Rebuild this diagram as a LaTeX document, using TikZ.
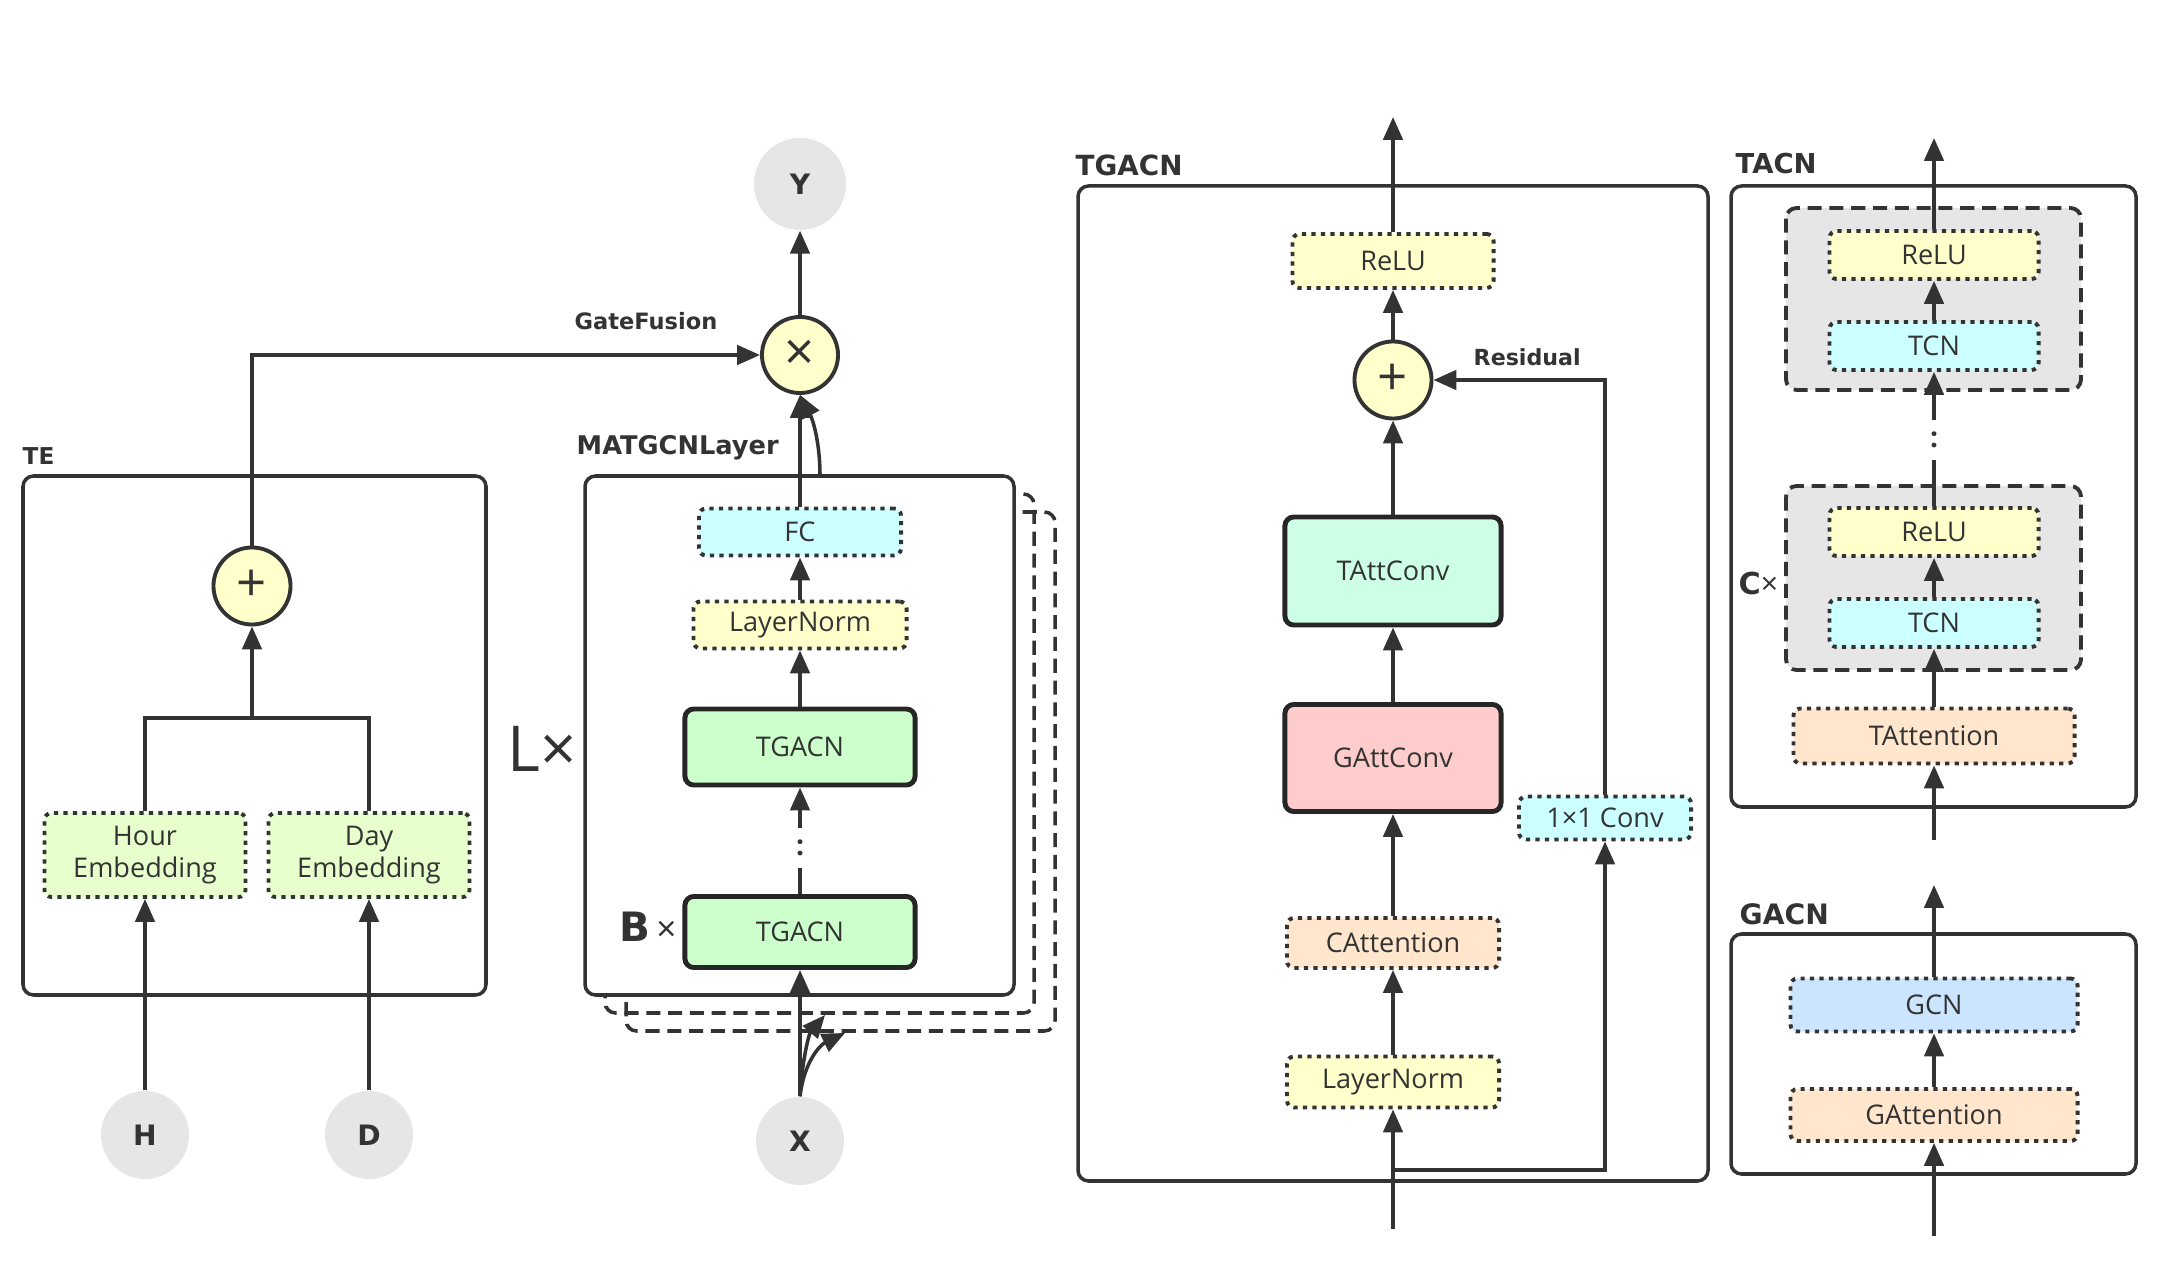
\documentclass[tikz,border=0pt]{standalone}
\usepackage{fontspec}
\setmainfont{Open Sans}
\setsansfont{Open Sans}
\newfontfamily\lblfont{DejaVu Sans}
\usetikzlibrary{arrows.meta,shapes.geometric}
\definecolor{dk}{HTML}{333333}
\definecolor{embf}{HTML}{E6FFCC}
\definecolor{cyanf}{HTML}{CCFFFF}
\definecolor{yelf}{HTML}{FFFFCC}
\definecolor{grnf}{HTML}{CCFFCC}
\definecolor{mintf}{HTML}{CCFFE6}
\definecolor{pinkf}{HTML}{FFCCCC}
\definecolor{orgf}{HTML}{FFE6CC}
\definecolor{bluf}{HTML}{CCE5FF}
\definecolor{grayf}{HTML}{E6E6E6}
\begin{document}
\begin{tikzpicture}[x=0.01cm,y=-0.01cm,
  ln/.style={draw=dk, line width=1pt},
  arr/.style={ln, -{Triangle[length=6.5pt,width=5.5pt]}},
  txt/.style={text=dk, font=\fontsize{7.7}{9.5}\selectfont},
  dotbox/.style={txt, draw=dk, line width=1.1pt, dash pattern=on 1.2pt off 1.5pt, rounded corners=2pt, inner sep=0pt, align=center},
  solidbox/.style={txt, draw=black!85, line width=1.4pt, rounded corners=2.5pt, inner sep=0pt},
  frame/.style={draw=dk, line width=1pt, rounded corners=3pt},
  group/.style={draw=dk, line width=1.1pt, dash pattern=on 4pt off 2.2pt, rounded corners=3pt, fill=grayf},
  copybox/.style={draw=dk, line width=1pt, dash pattern=on 4pt off 2.2pt, rounded corners=3pt},
  title/.style={text=dk, font=\lblfont\bfseries\fontsize{7.8}{9}\selectfont, anchor=base west, inner sep=0pt},
  io/.style={circle, fill=grayf, text=dk, font=\lblfont\bfseries\fontsize{8}{9}\selectfont, minimum size=0.88cm, inner sep=0pt},
  op/.style={circle, draw=dk, line width=1.1pt, fill=yelf, minimum size=0.77cm, inner sep=0pt, text=dk, font=\fontsize{15}{15}\selectfont},
  dotsn/.style={inner sep=0pt, minimum width=0.1cm, minimum height=0.38cm, text=dk, font=\bfseries\fontsize{8}{8}\selectfont}
]
\useasboundingbox (0,0) rectangle (2158,1286);

% ---------------- TE ----------------
\draw[frame] (23,476) rectangle (486,995);
\node[title, font=\lblfont\bfseries\fontsize{6.6}{8}\selectfont] (teT) at (22,465) {TE};
\node[op] (teplus) at (252,586) {+};
\node[dotbox, fill=embf, minimum width=2.01cm, minimum height=0.84cm] (hour) at (145,855) {Hour\\[-0.3pt]Embedding};
\node[dotbox, fill=embf, minimum width=2.01cm, minimum height=0.84cm] (day) at (369,855) {Day\\[-0.3pt]Embedding};
\node[io] (H) at (145,1135) {H};
\node[io] (D) at (369,1135) {D};
\coordinate (tej) at (252,718);
\coordinate (gfc) at (252,355);

% ---------------- MATGCN ----------------
\draw[copybox] (626,512) rectangle (1055,1031);
\draw[copybox] (605,494) rectangle (1034,1013);
\draw[frame, fill=white] (585,476) rectangle (1014,995);
\node[title, font=\lblfont\bfseries\fontsize{7.3}{9}\selectfont] (matT) at (576,455) {MATGCNLayer};
\node[title, font=\lblfont\bfseries\fontsize{6.4}{8}\selectfont] (gfT) at (574,330) {GateFusion};
\node[anchor=base west, inner sep=0pt, text=dk, font=\fontsize{18}{18}\selectfont] (Lx) at (507,772) {L×};
\node[anchor=base west, inner sep=0pt, text=dk] (Bx) at (619,941) {{\lblfont\bfseries\fontsize{11.5}{12}\selectfont B}\,{\fontsize{10}{10}\selectfont ×}};
\node[io, minimum size=0.92cm] (Y) at (800,184) {Y};
\node[op, minimum size=0.76cm] (mul) at (800,355) {×};
\node[dotbox, fill=cyanf, minimum width=2.02cm, minimum height=0.47cm] (fc) at (800,532) {FC};
\node[dotbox, fill=yelf, minimum width=2.13cm, minimum height=0.47cm] (ln1) at (800,625) {LayerNorm};
\node[solidbox, fill=grnf, minimum width=2.3cm, minimum height=0.76cm] (tgt) at (800,747) {TGACN};
\node[dotsn] (dots1) at (800,848) {:};
\node[solidbox, fill=grnf, minimum width=2.3cm, minimum height=0.71cm] (tgb) at (800,932) {TGACN};
\node[io] (X) at (800,1141) {X};
\coordinate (c1) at (820,476);
\coordinate (c2) at (825,1015);
\coordinate (c3) at (845,1033);

% ---------------- TGACN ----------------
\draw[frame] (1078,186) rectangle (1708,1181);
\node[title, font=\lblfont\bfseries\fontsize{7.9}{9}\selectfont] (tgT) at (1075,176) {TGACN};
\node[title, font=\lblfont\bfseries\fontsize{6.3}{8}\selectfont] (resT) at (1473,366) {Residual};
\node[dotbox, fill=yelf, minimum width=2.01cm, minimum height=0.54cm] (relu) at (1393,261) {ReLU};
\node[op] (plus2) at (1393,380) {+};
\node[solidbox, fill=mintf, minimum width=2.16cm, minimum height=1.08cm] (tatt) at (1393,571) {TAttConv};
\node[solidbox, fill=pinkf, minimum width=2.16cm, minimum height=1.07cm] (gatt) at (1393,758) {GAttConv};
\node[dotbox, fill=cyanf, minimum width=1.72cm, minimum height=0.43cm] (conv) at (1605,818) {1×1 Conv};
\node[dotbox, fill=orgf, minimum width=2.12cm, minimum height=0.5cm] (catt) at (1393,943) {CAttention};
\node[dotbox, fill=yelf, minimum width=2.12cm, minimum height=0.51cm] (lnb) at (1393,1082) {LayerNorm};
\coordinate (tgin) at (1393,1229);
\coordinate (tgout) at (1393,117);
\coordinate (resj) at (1393,1170);

% ---------------- TACN ----------------
\draw[frame] (1731,186) rectangle (2136,807);
\node[title, font=\lblfont\bfseries\fontsize{7.8}{9}\selectfont] (taT) at (1735,174) {TACN};
\draw[group] (1786,208) rectangle (2081,390);
\draw[group] (1786,486) rectangle (2081,670);
\node[anchor=base west, inner sep=0pt, text=dk] (Cx) at (1738,595) {{\lblfont\bfseries\fontsize{8.6}{9}\selectfont C}{\fontsize{8.6}{9}\selectfont ×}};
\node[dotbox, fill=yelf, minimum width=2.09cm, minimum height=0.48cm] (relu1) at (1934,255) {ReLU};
\node[dotbox, fill=cyanf, minimum width=2.09cm, minimum height=0.48cm] (tcn1) at (1934,346) {TCN};
\node[dotsn] (dots2) at (1934,440) {:};
\node[dotbox, fill=yelf, minimum width=2.09cm, minimum height=0.48cm] (relu2) at (1934,532) {ReLU};
\node[dotbox, fill=cyanf, minimum width=2.09cm, minimum height=0.48cm] (tcn2) at (1934,623) {TCN};
\node[dotbox, fill=orgf, minimum width=2.81cm, minimum height=0.55cm] (tattn) at (1934,736) {TAttention};
\coordinate (tain) at (1934,840);
\coordinate (taout) at (1934,138);

% ---------------- GACN ----------------
\draw[frame] (1731,934) rectangle (2136,1174);
\node[title, font=\lblfont\bfseries\fontsize{8}{9}\selectfont] (gaT) at (1739,924) {GACN};
\node[dotbox, fill=bluf, minimum width=2.87cm, minimum height=0.53cm] (gcn) at (1934,1005) {GCN};
\node[dotbox, fill=orgf, minimum width=2.87cm, minimum height=0.52cm] (gattn) at (1934,1115) {GAttention};
\coordinate (gain) at (1934,1236);
\coordinate (gaout) at (1934,885);

% ---------------- connectors ----------------
% TE
\draw[arr] (H) -- (hour);
\draw[arr] (D) -- (day);
\draw[ln] (hour.north) |- (tej) -| (day.north);
\draw[arr] (tej) -- (teplus);
\draw[arr] (teplus.north) -- (gfc) -- (mul.west);
% MATGCN
\draw[arr] (X) -- (tgb);
\draw[ln] (tgb) -- (dots1);
\draw[arr] (dots1) -- (tgt);
\draw[arr] (tgt) -- (ln1);
\draw[arr] (ln1) -- (fc);
\draw[arr] (fc) -- (mul);
\draw[arr] (mul) -- (Y);
\draw[arr] (c1) .. controls (820,440) and (812,418) .. (mul.south);
\draw[arr] (X.north) .. controls (801,1070) and (808,1035) .. (c2);
\draw[arr] (X.north) .. controls (804,1062) and (820,1045) .. (c3);
% TGACN
\draw[arr] (tgin) -- (lnb);
\draw[arr] (resj) -| (conv.south);
\draw[arr] (conv.north) |- (plus2.east);
\draw[arr] (lnb) -- (catt);
\draw[arr] (catt) -- (gatt);
\draw[arr] (gatt) -- (tatt);
\draw[arr] (tatt) -- (plus2);
\draw[arr] (plus2) -- (relu);
\draw[arr] (relu) -- (tgout);
% TACN
\draw[arr] (tain) -- (tattn);
\draw[arr] (tattn) -- (tcn2);
\draw[arr] (tcn2) -- (relu2);
\draw[ln] (relu2) -- (dots2);
\draw[arr] (dots2) -- (tcn1);
\draw[arr] (tcn1) -- (relu1);
\draw[arr] (relu1) -- (taout);
% GACN
\draw[arr] (gain) -- (gattn);
\draw[arr] (gattn) -- (gcn);
\draw[arr] (gcn) -- (gaout);
\end{tikzpicture}
\end{document}
